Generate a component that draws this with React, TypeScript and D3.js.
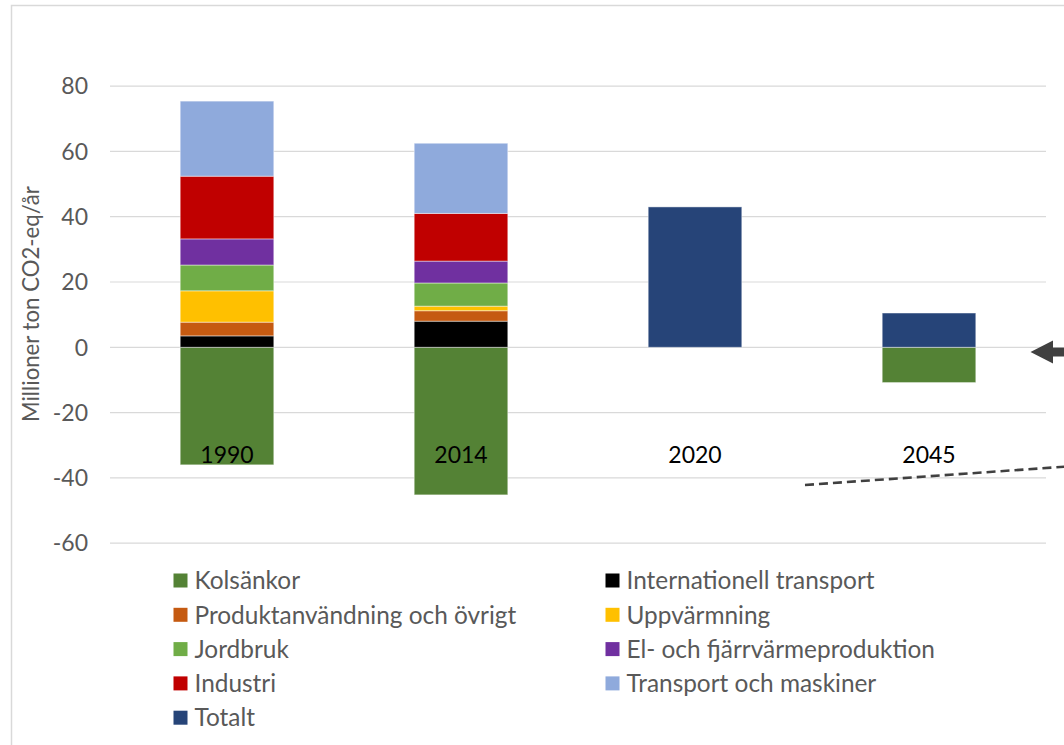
import React from "react";
import * as d3 from "d3";

const years = ["1990", "2014", "2020", "2045"];
const seriesNames = [
  "Kolsänkor",
  "Internationell transport",
  "Produktanvändning och övrigt",
  "Uppvärmning",
  "Jordbruk",
  "El- och fjärrvärmeproduktion",
  "Industri",
  "Transport och maskiner",
  "Totalt",
];
const seriesColors = [
  "#548235",
  "#000000",
  "#C55A11",
  "#FFC000",
  "#70AD47",
  "#7030A0",
  "#C00000",
  "#8FAADC",
  "#264478",
];
// values per series, one per year (1990, 2014, 2020, 2045)
const kolsankor = [-36.0, -45.2, 0, -10.8];
const internationellTransport = [3.5, 8.0, 0, 0];
const produktanvandning = [4.2, 3.2, 0, 0];
const uppvarmning = [9.6, 1.4, 0, 0];
const jordbruk = [7.9, 7.1, 0, 0];
const elFjarrvarme = [8.0, 6.7, 0, 0];
const industri = [19.2, 14.6, 0, 0];
const transportMaskiner = [23.0, 21.5, 0, 0];
const totalt = [0, 0, 43.0, 10.5];
const seriesValues = [
  kolsankor,
  internationellTransport,
  produktanvandning,
  uppvarmning,
  jordbruk,
  elFjarrvarme,
  industri,
  transportMaskiner,
  totalt,
];
const yTicks = [80, 60, 40, 20, 0, -20, -40, -60];
const yLabel = "Millioner ton CO2-eq/år";
// legend order (two columns)
const legendOrder = [0, 1, 2, 3, 4, 5, 6, 7, 8];

const FONT = "Lato, 'Open Sans', sans-serif";

export default function App() {
  const W = 1064;
  const H = 745;
  const plotLeft = 110;
  const plotRight = 1046;

  const y = d3.scaleLinear().domain([-60, 80]).range([543.2, 86.1]);
  const x = d3
    .scaleBand<string>()
    .domain(years)
    .range([plotLeft, plotRight])
    .paddingInner(0.6)
    .paddingOuter(0.3);

  const table = years.map((yr, i) => {
    const row: Record<string, any> = { year: yr };
    seriesNames.forEach((s, j) => (row[s] = seriesValues[j][i]));
    return row;
  });
  const stack = d3
    .stack<any>()
    .keys(seriesNames)
    .offset(d3.stackOffsetDiverging);
  const layers = stack(table);

  return (
    <svg
      width={W}
      height={H}
      style={{ position: "absolute", left: 0, top: 0, background: "#fff" }}
      fontFamily={FONT}
    >
      <rect x={0} y={0} width={W} height={H} fill="#fff" />
      <rect
        x={11.5}
        y={5.5}
        width={1120}
        height={800}
        fill="none"
        stroke="#d9d9d9"
        strokeWidth={1.5}
      />
      {/* gridlines */}
      {yTicks.map((t) => (
        <line
          key={t}
          x1={plotLeft}
          x2={plotRight}
          y1={y(t)}
          y2={y(t)}
          stroke="#d9d9d9"
          strokeWidth={1.2}
        />
      ))}
      {/* y tick labels */}
      {yTicks.map((t) => (
        <text
          key={"l" + t}
          x={88}
          y={y(t)}
          dy="0.36em"
          textAnchor="end"
          fontSize={23}
          fill="#595959"
        >
          {t}
        </text>
      ))}
      {/* y axis title */}
      <text
        transform={`translate(38.5,${304}) rotate(-90)`}
        textAnchor="middle"
        fontSize={22.2}
        fill="#595959"
      >
        {yLabel}
      </text>
      {/* bars */}
      {layers.map((layer, li) => (
        <g key={layer.key} fill={seriesColors[li]}>
          {layer.map((d, i) => {
            const h = Math.abs(y(d[0]) - y(d[1]));
            if (h < 0.01) return null;
            return (
              <rect
                key={i}
                x={x(years[i])}
                y={Math.min(y(d[0]), y(d[1]))}
                width={x.bandwidth()}
                height={h}
                stroke="#ffffff"
                strokeOpacity={0.45}
                strokeWidth={1}
              />
            );
          })}
        </g>
      ))}
      {/* category labels */}
      {years.map((yr) => (
        <text
          key={"c" + yr}
          x={(x(yr) as number) + x.bandwidth() / 2}
          y={463}
          textAnchor="middle"
          fontSize={23}
          fill="#000"
        >
          {yr}
        </text>
      ))}
      {/* annotations */}
      <line
        x1={805}
        y1={485}
        x2={1070}
        y2={466.3}
        stroke="#404040"
        strokeWidth={2.6}
        strokeDasharray="9,5"
      />
      <polygon
        points="1030.5,352 1053,340.5 1053,347.5 1070,347.5 1070,356.5 1053,356.5 1053,363.5"
        fill="#404040"
      />
      {/* legend */}
      {legendOrder.map((si, k) => {
        const col = k % 2;
        const row = Math.floor(k / 2);
        const lx = col === 0 ? 173.5 : 605.5;
        const ly = 580.5 + row * 34.3;
        return (
          <g key={"lg" + si}>
            <rect
              x={lx}
              y={ly - 7}
              width={14}
              height={14}
              fill={seriesColors[si]}
            />
            <text
              x={lx + 21}
              y={ly}
              dy="0.36em"
              fontSize={24.4}
              fill="#595959"
            >
              {seriesNames[si]}
            </text>
          </g>
        );
      })}
    </svg>
  );
}
